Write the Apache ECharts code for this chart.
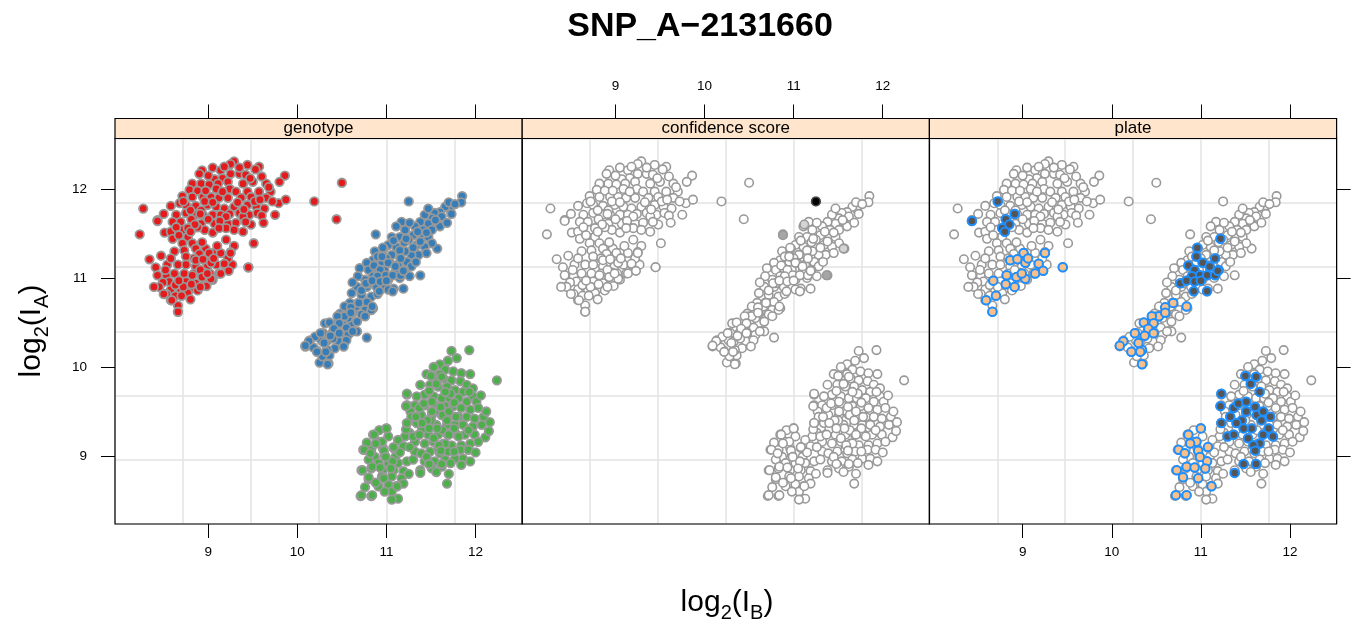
<!DOCTYPE html>
<html><head><meta charset="utf-8">
<script src="https://cdn.jsdelivr.net/npm/echarts@6/dist/echarts.min.js"></script>
<style>html,body{margin:0;padding:0;background:#fff}#c{width:1355px;height:628px}</style>
</head><body><div id="c"></div>
<script>
// ---------------- data ----------------
const titleText = 'SNP_A\u22122131660';
const panelNames = ['genotype', 'confidence score', 'plate'];
const xTicks = [9, 10, 11, 12];
const yTicks = [9, 10, 11, 12];

// genotype AA (red)
const genoAA = [
[9.29,12.31],[9.25,12.28],[9.05,12.24],[8.93,12.21],[9.14,12.21],[9.44,12.27],[9.57,12.25],[9.53,12.22],[8.90,12.17],[9.25,12.17],[9.35,12.17],[9.16,12.12],[9.07,12.11],[9.42,12.16],[9.50,12.08],[9.65,12.06],[8.82,12.06],[8.92,12.06],[9.01,12.05],[9.11,12.06],[9.22,12.08],[9.39,12.06],[9.70,11.97],[8.79,11.99],[8.88,11.98],[9.09,12.00],[9.24,12.00],[9.31,11.97],[9.44,11.97],[9.57,11.97],[8.71,11.92],[8.82,11.91],[8.94,11.91],[9.03,11.91],[9.12,11.90],[9.22,11.90],[9.37,11.90],[9.48,11.91],[9.65,11.90],[9.79,11.84],[8.58,11.81],[8.68,11.84],[8.75,11.82],[8.86,11.81],[8.99,11.82],[9.09,11.80],[9.18,11.78],[9.29,11.80],[9.44,11.82],[9.54,11.80],[9.63,11.78],[8.64,11.71],[8.75,11.73],[8.86,11.71],[8.94,11.71],[9.05,11.71],[9.14,11.71],[9.24,11.72],[9.35,11.73],[9.46,11.71],[9.55,11.73],[8.60,11.63],[8.69,11.63],[8.82,11.61],[8.92,11.61],[9.07,11.61],[9.22,11.61],[9.31,11.62],[9.39,11.69],[9.48,11.60],[8.51,11.51],[8.58,11.52],[8.71,11.54],[8.80,11.52],[8.96,11.54],[9.20,11.56],[9.29,11.54],[9.39,11.52],[8.77,11.46],
[9.00,12.15],[9.18,12.25],[9.35,12.24],[9.47,12.12],[9.60,12.14],[8.97,11.98],[9.16,11.97],[9.52,11.86],[9.58,11.88],[8.96,11.86],[9.05,11.85],[9.33,11.85],[9.40,11.77],[8.80,11.76],[8.92,11.76],[9.20,11.69],[9.00,11.66],[9.13,11.64],[9.42,11.63],[8.64,11.57],[8.88,11.57],[9.05,11.51],[9.12,11.56],[8.60,11.44],[8.67,11.48],[9.72,11.86],[9.60,11.70],[9.68,12.02],[8.50,11.72],[9.62,11.62],
[8.27,11.78],[8.43,11.65],[8.23,11.49],[10.19,11.86],[9.87,11.88],[9.86,12.15],[9.80,12.08],[9.75,11.71],[9.51,11.39],[9.45,11.12],[10.44,11.66],[10.50,12.07],
[8.71,11.39],[8.82,11.39],[8.73,11.31],[8.86,11.33],[8.97,11.33],[9.20,11.43],[9.29,11.36],[8.90,11.27],[9.05,11.28],[9.14,11.28],[9.25,11.29],[8.75,11.24],[8.84,11.22],[8.96,11.20],[8.47,11.25],[8.54,11.15],[8.66,11.15],[8.75,11.15],[8.86,11.13],[8.99,11.13],[9.09,11.15],[9.18,11.15],[9.27,11.15],[8.41,11.12],[8.43,11.03],[8.53,11.02],[8.62,11.05],[8.73,11.05],[8.84,11.05],[8.96,11.06],[9.12,11.05],[8.56,10.96],[8.66,10.95],[8.75,10.96],[8.86,10.94],[8.96,10.97],[9.05,10.98],[8.49,10.95],[8.58,10.87],[8.69,10.87],[8.79,10.87],[8.88,10.86],[8.45,10.90],[8.39,10.90],[8.58,10.75],[8.66,10.69],[8.66,10.62],[8.71,10.81],[8.77,10.83],[8.34,11.21],
[8.93,11.40],[9.10,11.36],[8.62,11.30],[8.58,11.22],[9.03,11.22],[9.22,11.22],[8.91,11.09],[9.02,11.05],[8.52,11.09],[8.63,10.92],[8.72,10.90],[8.98,10.91],[8.53,10.82],[8.63,10.80],[8.80,10.76],[8.50,10.82]
];
// genotype AB (blue)
const genoAB = [
[11.25,11.86],[10.88,11.49],[11.85,11.92],[11.84,11.85],[11.71,11.77],[11.57,11.33],[11.38,11.03],[10.78,10.33],
[11.66,11.80],[11.60,11.74],[11.54,11.73],[11.62,11.69],[11.51,11.67],[11.43,11.71],[11.56,11.63],[11.47,11.61],[11.38,11.63],[11.32,11.58],[11.41,11.54],[11.51,11.54],[11.60,11.58],[11.17,11.63],[11.11,11.58],[11.21,11.54],[11.30,11.48],[11.40,11.45],[11.47,11.46],[11.51,11.39],[11.15,11.46],[11.06,11.46],[11.25,11.43],[11.34,11.37],[11.43,11.35],[11.36,11.26],[11.28,11.26],[11.21,11.30],[11.11,11.35],[11.02,11.37],[10.97,11.33],[10.87,11.30],[10.95,11.26],[11.06,11.26],[11.15,11.24],[11.23,11.18],[11.28,11.13],[11.13,11.15],[11.04,11.17],[10.95,11.18],[10.85,11.20],[10.78,11.17],[10.70,11.11],[10.80,11.09],[10.89,11.11],[10.98,11.09],[11.10,11.07],[11.19,11.05],[11.26,11.02],[10.85,11.02],[10.93,10.98],[11.02,10.98],[10.76,10.98],[10.68,11.02],[11.19,10.88],[11.08,10.88],[10.98,10.90],[10.89,10.90],[10.78,10.90],[10.67,10.90],[10.61,10.83],[10.72,10.81],[10.83,10.79],[10.59,10.72],[10.68,10.72],[10.78,10.73],[10.85,10.66],[10.76,10.64],[10.63,10.62],[10.55,10.62],
[10.80,10.94],[11.02,10.87],[10.53,10.68],[10.61,10.60],[10.72,10.59],[10.83,10.64],[10.48,10.60],[10.52,10.53],[10.61,10.49],[10.67,10.51],[10.76,10.57],[10.31,10.49],[10.42,10.47],[10.55,10.44],[10.67,10.40],[10.29,10.38],[10.39,10.38],[10.48,10.38],[10.57,10.36],[10.14,10.30],[10.27,10.30],[10.33,10.29],[10.46,10.29],[10.55,10.30],[10.09,10.23],[10.22,10.18],[10.33,10.19],[10.42,10.21],[10.52,10.23],[10.25,10.05],[10.35,10.04],[10.44,10.49],[10.50,10.57],
[11.70,11.85],[11.77,11.83],[11.47,11.78],[11.55,11.65],[11.68,11.62],[11.35,11.52],[11.26,11.62],[11.45,11.51],[11.20,11.40],[11.38,11.41],[11.30,11.34],[11.00,11.22],[11.15,11.31],[10.90,11.24],[11.33,11.18],[10.62,10.95],[10.72,10.86],[10.90,10.82],[10.66,10.68],[10.57,10.55],[10.40,10.32],[10.20,10.34],[10.62,10.40],[10.36,10.13],[10.28,10.12],[10.18,10.22],[11.45,11.28],[11.08,11.42],[11.73,11.72],[11.15,11.00]
];
// genotype BB (green)
const genoBB = [
[12.24,9.85],[11.93,10.19],[11.73,10.18],[11.68,8.69],[10.71,8.55],[10.83,8.55],[10.72,8.84],[10.80,8.74],[11.23,9.57],
[11.79,10.10],[11.69,10.07],[11.60,10.03],[11.53,10.00],[11.66,9.97],[11.75,9.95],[11.84,9.93],[11.94,9.92],[11.45,9.92],[11.54,9.89],[11.64,9.87],[11.73,9.85],[11.83,9.84],[11.90,9.80],[11.97,9.76],[11.49,9.80],[11.58,9.78],[11.68,9.78],[11.77,9.74],[11.86,9.72],[11.97,9.67],[11.43,9.69],[11.53,9.67],[11.62,9.65],[11.71,9.65],[11.81,9.65],[11.90,9.61],[12.01,9.61],[11.23,9.69],[11.34,9.67],[11.32,9.57],[11.43,9.57],[11.54,9.57],[11.66,9.56],[11.75,9.56],[11.84,9.54],[11.94,9.52],[12.03,9.54],[12.09,9.44],[11.39,9.46],[11.51,9.46],[11.62,9.46],[11.71,9.46],[11.81,9.44],[11.90,9.44],[11.99,9.42],[11.23,9.37],[11.34,9.37],[11.45,9.35],[11.56,9.35],[11.68,9.35],[11.77,9.35],[11.86,9.35],[11.97,9.33],[12.07,9.35],[11.26,9.26],[11.36,9.24],[11.47,9.24],[11.58,9.24],[11.69,9.24],[11.79,9.24],[11.88,9.24],[11.99,9.24],[12.11,9.21],[11.21,9.22],[11.32,9.16],[11.43,9.14],[11.53,9.16],[11.64,9.14],[11.73,9.12],[11.84,9.12],[11.94,9.14],[12.03,9.16],[11.32,9.05],[11.39,9.03],[11.49,9.05],[11.60,9.03],[11.69,9.05],[11.83,9.07],[11.92,9.07],[11.43,8.94],[11.54,8.94],[11.66,8.96],[11.77,8.97],[11.86,8.97],[11.94,8.94],[11.38,8.84],[11.49,8.90],[11.62,8.88],[11.51,8.86],[11.84,8.90],
[11.00,9.31],[10.85,9.24],[11.02,9.22],[10.91,9.16],[11.13,9.18],[10.74,9.07],[10.83,9.07],[10.96,9.09],[11.08,9.09],[11.19,9.11],[10.87,8.99],[10.98,9.01],[11.10,8.99],[10.80,8.96],[10.91,8.92],[11.02,8.92],[11.13,8.92],[11.23,8.94],[10.83,8.86],[10.96,8.84],[11.08,8.84],[11.19,8.83],[10.95,8.77],[11.06,8.77],[11.17,8.75],[10.91,8.66],[11.02,8.68],[11.11,8.66],[11.19,8.69],[11.06,8.60],[11.13,8.52],[11.06,8.51],[10.98,8.60],
[11.38,9.80],[11.60,9.92],[11.48,9.73],[11.72,9.70],[11.93,9.72],[12.06,9.68],[11.27,9.50],[11.58,9.51],[11.76,9.60],[12.12,9.50],[11.28,9.44],[11.50,9.40],[12.16,9.38],[11.40,9.30],[11.63,9.29],[11.92,9.29],[12.15,9.28],[11.26,9.10],[11.58,9.08],[11.76,9.05],[12.00,9.04],[11.45,8.99],[11.72,8.92],[11.30,8.96],[11.56,8.82],[11.70,8.80],[10.78,9.15],[10.92,9.29],[11.15,9.04],[10.88,8.70],[10.76,8.65],[11.25,8.80],[11.22,9.30]
];
// plate highlights (dark plate / light plate), by genotype
const plateDarkAA = [[8.72,11.86],[8.43,11.64],[8.91,11.72],[8.81,11.66],[8.85,11.60],[8.77,11.56],[8.80,11.52]];
const plateDarkAB = [[11.22,11.44],[10.96,11.34],[10.95,11.24],[11.16,11.22],[10.86,11.14],[10.93,11.09],[11.02,11.17],[11.10,11.13],[11.20,11.09],[10.99,11.03],[11.07,11.03],[10.90,11.02],[11.16,11.03],[10.77,10.94],[10.84,10.97],[10.93,10.96],[11.00,10.97],[10.92,10.85],[11.07,10.85],[11.19,11.08]];
const plateDarkBB = [[11.50,9.90],[11.62,9.89],[11.56,9.81],[11.66,9.72],[11.23,9.70],[11.22,9.56],[11.37,9.54],[11.42,9.59],[11.51,9.61],[11.61,9.55],[11.51,9.50],[11.63,9.46],[11.70,9.50],[11.78,9.44],[11.33,9.44],[11.23,9.37],[11.46,9.40],[11.57,9.31],[11.68,9.40],[11.76,9.31],[11.81,9.22],[11.30,9.22],[11.37,9.24],[11.53,9.20],[11.70,9.24],[11.66,9.14],[11.59,9.12],[11.61,9.06],[11.48,8.91],[11.62,8.91],[11.38,8.81],[11.40,9.37],[11.48,9.31]];
const plateLightAA = [[9.25,11.28],[9.01,11.28],[8.86,11.20],[8.94,11.21],[9.03,11.17],[9.18,11.16],[9.06,11.22],[9.45,11.12],[9.14,11.05],[9.23,11.08],[8.82,11.03],[8.93,11.01],[9.03,10.99],[8.99,11.05],[8.67,10.97],[8.81,10.93],[8.91,10.90],[8.70,10.80],[8.59,10.75],[8.66,10.62]];
const plateLightAB = [[10.69,10.72],[10.60,10.67],[10.53,10.57],[10.45,10.57],[10.60,10.61],[10.47,10.49],[10.36,10.50],[10.41,10.43],[10.26,10.38],[10.37,10.35],[10.47,10.38],[10.13,10.29],[10.09,10.24],[10.22,10.17],[10.34,10.19],[10.30,10.27],[10.84,10.68],[10.32,10.17],[10.34,10.03]];
const plateLightBB = [[11.00,9.31],[10.86,9.24],[10.95,9.16],[10.88,9.14],[11.08,9.10],[10.75,9.07],[10.82,9.03],[10.97,9.06],[11.07,8.94],[10.84,8.88],[10.93,8.87],[11.05,8.86],[10.73,8.84],[10.80,8.76],[10.97,8.75],[11.12,8.66],[10.72,8.56],[10.84,8.56],[10.99,8.99]];
// low confidence calls
const confLow = [[11.25,11.86]];
const confMid = [[10.88,11.48],[11.37,11.03]];
const confSlight = [[11.56,11.33],[11.12,11.60]];

// ---------------- layout / style ----------------
const FONT = '"Liberation Sans", Arial, Helvetica, sans-serif';
const X_MIN = 7.953, X_MAX = 12.524, Y_MIN = 8.236, Y_MAX = 12.567;
const P_TOP = 138.5, P_H = 385.5, P_W = 407.2;
const P_LEFT = [115, 522.2, 929.4];
const GRID_COL = '#e3e3e3';

const allAA = genoAA.concat(plateDarkAA, plateLightAA);
const allAB = genoAB.concat(plateDarkAB, plateLightAB);
const allBB = genoBB.concat(plateDarkBB, plateLightBB);
const allPts = allAA.concat(allAB, allBB);
const plateDark = plateDarkAA.concat(plateDarkAB, plateDarkBB);
const plateLight = plateLightAA.concat(plateLightAB, plateLightBB);

const grids = [], xAxes = [], yAxes = [], series = [], graphics = [];
const tickStyle = {lineStyle: {color: '#000', width: 1}, length: 14};
const labStyle = {color: '#000', fontSize: 13.5, fontFamily: FONT};

P_LEFT.forEach((left, i) => {
  grids.push({left: left, top: P_TOP, width: P_W, height: P_H, show: false});
  xAxes.push({gridIndex: i, type: 'value', min: X_MIN, max: X_MAX, position: 'bottom',
    axisLine: {show: false}, splitLine: {show: false},
    axisTick: Object.assign({show: i !== 1, customValues: xTicks}, tickStyle),
    axisLabel: Object.assign({show: i !== 1, customValues: xTicks, margin: 21}, labStyle)});
  xAxes.push({gridIndex: i, type: 'value', min: X_MIN, max: X_MAX, position: 'top', offset: 20,
    axisLine: {show: false}, splitLine: {show: false},
    axisTick: Object.assign({show: true, customValues: xTicks}, tickStyle),
    axisLabel: Object.assign({show: i === 1, customValues: xTicks, margin: 25}, labStyle)});
  xAxes.push({gridIndex: i, type: 'value', min: 0, max: 6, interval: 1, position: 'bottom',
    axisLine: {show: false}, axisTick: {show: false}, axisLabel: {show: false},
    splitLine: {show: true, lineStyle: {color: GRID_COL, width: 1.5}}});
  yAxes.push({gridIndex: i, type: 'value', min: Y_MIN, max: Y_MAX, position: 'left',
    axisLine: {show: false}, splitLine: {show: false},
    axisTick: Object.assign({show: i === 0, customValues: yTicks}, tickStyle),
    axisLabel: Object.assign({show: i === 0, customValues: yTicks, margin: 28}, labStyle)});
  yAxes.push({gridIndex: i, type: 'value', min: Y_MIN, max: Y_MAX, position: 'right',
    axisLine: {show: false}, splitLine: {show: false},
    axisTick: Object.assign({show: i === 2, customValues: yTicks}, tickStyle),
    axisLabel: {show: false}});
  yAxes.push({gridIndex: i, type: 'value', min: 0, max: 6, interval: 1, position: 'left',
    axisLine: {show: false}, axisTick: {show: false}, axisLabel: {show: false},
    splitLine: {show: true, lineStyle: {color: GRID_COL, width: 1.5}}});
  // panel border
  graphics.push({type: 'rect', shape: {x: left, y: P_TOP, width: P_W, height: P_H},
    style: {fill: null, stroke: '#000', lineWidth: 1.2}, z: 20, silent: true});
  // strip
  graphics.push({type: 'rect', shape: {x: left, y: P_TOP - 20, width: P_W, height: 20},
    style: {fill: '#FFE5CC', stroke: '#000', lineWidth: 1.2}, z: 20, silent: true});
  graphics.push({type: 'text', x: left + P_W / 2, y: P_TOP - 10, z: 21, silent: true,
    style: {text: panelNames[i], font: '17px ' + FONT, fill: '#000', textAlign: 'center', textVerticalAlign: 'middle'}});
});

function sc(panel, data, fill, border, bw, z) {
  series.push({type: 'scatter', xAxisIndex: panel * 3, yAxisIndex: panel * 3, data: data,
    symbol: 'circle', symbolSize: 8.5, z: z || 2, silent: true, animation: false,
    itemStyle: {color: fill, borderColor: border, borderWidth: bw, opacity: 1},
    emphasis: {disabled: true}});
}
// panel 1: genotype
sc(0, allAA, '#E41A1C', '#999999', 1.8);
sc(0, allAB, '#377EB8', '#999999', 1.8);
sc(0, allBB, '#4DAF4A', '#999999', 1.8);
// panel 2: confidence score
sc(1, allPts, '#ffffff', '#999999', 1.6);
sc(1, confSlight, '#d4d4d4', '#999999', 1.6, 3);
sc(1, confMid, '#a6a6a6', '#999999', 1.6, 3);
sc(1, confLow, '#000000', '#444444', 1.6, 3);
// panel 3: plate
sc(2, allPts, '#ffffff', '#999999', 1.6);
sc(2, plateDark, '#555555', '#1E8FFF', 2, 3);
sc(2, plateLight, '#F9C089', '#1E8FFF', 2, 3);

// text helpers
const cv = document.createElement('canvas').getContext('2d');
function tw(s, size) { cv.font = size + 'px ' + FONT; return cv.measureText(s).width; }
function subLabel(parts, x, y, rot, mainSize, subSize, drop) {
  const w = parts.map(p => tw(p[0], p[1] ? subSize : mainSize));
  const total = w.reduce((a, b) => a + b, 0);
  let cx = -total / 2;
  const children = parts.map((p, k) => {
    const el = {type: 'text', x: cx, y: p[1] ? drop : 0,
      style: {text: p[0], font: (p[1] ? subSize : mainSize) + 'px ' + FONT, fill: '#000', textAlign: 'left', textVerticalAlign: 'middle'}};
    cx += w[k];
    return el;
  });
  return {type: 'group', x: x, y: y, rotation: rot, children: children};
}
graphics.push({type: 'text', x: 700, y: 27, style: {text: titleText, font: 'bold 34px ' + FONT, fill: '#000', textAlign: 'center', textVerticalAlign: 'middle'}});
graphics.push(subLabel([['log', 0], ['2', 1], ['(I', 0], ['B', 1], [')', 0]], 727, 603, 0, 30, 20, 10));
graphics.push(subLabel([['log', 0], ['2', 1], ['(I', 0], ['A', 1], [')', 0]], 32, 331, Math.PI / 2, 30, 20, 10));

const chart = echarts.init(document.getElementById('c'), null, {renderer: 'canvas'});
chart.setOption({animation: false, backgroundColor: '#fff', grid: grids, xAxis: xAxes, yAxis: yAxes, series: series, graphic: graphics});
</script></body></html>
